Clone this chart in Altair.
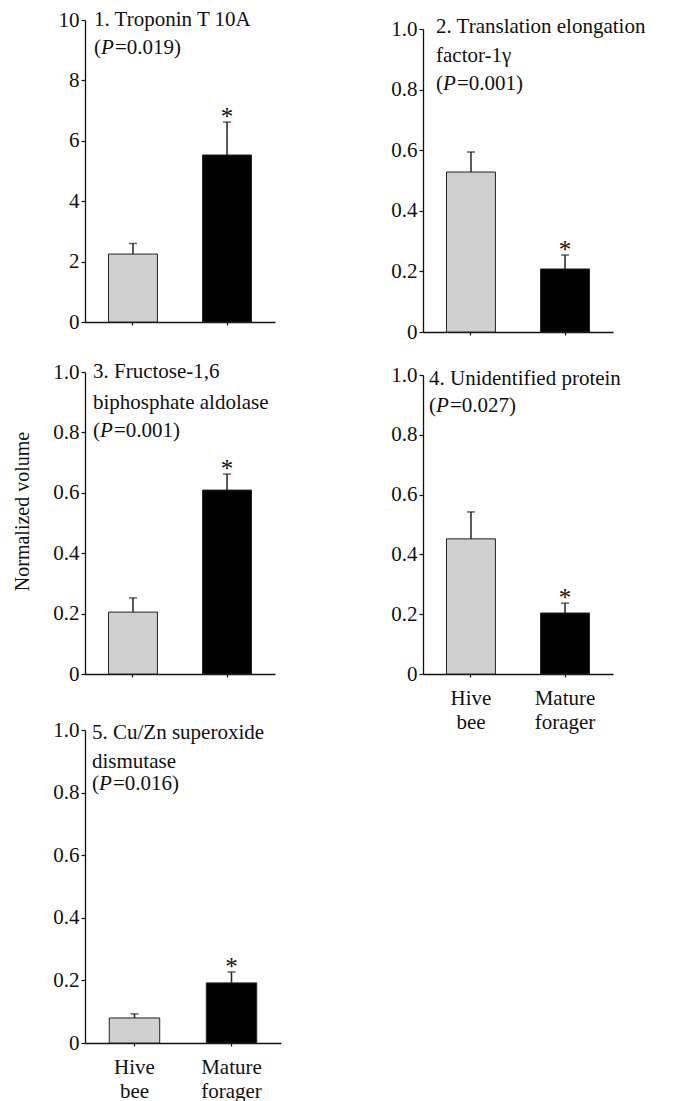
import altair as alt
import pandas as pd

# ---------------- data ----------------
groups = ["Hive bee", "Mature forager"]
signif = ["", "*"]

p1_means = [2.25, 5.53]
p1_upper = [2.60, 6.62]
p2_means = [0.528, 0.208]
p2_upper = [0.594, 0.254]
p3_means = [0.205, 0.609]
p3_upper = [0.252, 0.662]
p4_means = [0.452, 0.204]
p4_upper = [0.542, 0.237]
p5_means = [0.080, 0.192]
p5_upper = [0.093, 0.227]

p1_title = ["1. Troponin T 10A"]
p2_title = ["2. Translation elongation", "factor-1γ"]
p3_title = ["3. Fructose-1,6", "biphosphate aldolase"]
p4_title = ["4. Unidentified protein"]
p5_title = ["5. Cu/Zn superoxide", "dismutase"]

p1_pval = "0.019"
p2_pval = "0.001"
p3_pval = "0.001"
p4_pval = "0.027"
p5_pval = "0.016"

ticks_10 = [0, 2, 4, 6, 8, 10]
ticks_1 = [0, 0.2, 0.4, 0.6, 0.8, 1.0]
y_label = "Normalized volume"

FONT = "Liberation Serif"
FS = 21
INK = "#111111"


def text_layer(txt, x, y, italic=False, size=FS):
    return alt.Chart(alt.Data(values=[{"t": txt}])).mark_text(
        align="left", baseline="alphabetic", font=FONT, fontSize=size,
        fontStyle="italic" if italic else "normal", color=INK
    ).encode(x=alt.value(x), y=alt.value(y), text="t:N")


def panel(means, upper, title_lines, pval, ymax, ticks, width, height, top,
          line_y, x0, show_x_labels=False, ytitle=False):
    """height = view height; top = pixel offset of the axis maximum inside the view."""
    df = pd.DataFrame({"group": groups, "mean": means, "upper": upper, "sig": signif})
    xenc = alt.X(
        "group:N", sort=groups, title=None,
        scale=alt.Scale(paddingInner=0.48, paddingOuter=0.25),
        axis=alt.Axis(
            labels=show_x_labels, ticks=True, tickSize=3, domain=True,
            labelAngle=0, labelExpr="split(datum.label, ' ')",
            labelLineHeight=24, labelPadding=10, labelBaseline="top",
        ),
    )
    if ymax == 10:
        lab = "format(datum.value, 'd')"
    else:
        lab = "datum.value == 0 ? '0' : format(datum.value, '.1f')"
    yscale = alt.Scale(domain=[0, ymax], nice=False, zero=True, range=[height, top])
    yaxis_kw = dict(values=ticks, labelExpr=lab, tickSize=4, labelPadding=2,
                    domain=True, grid=False)
    if ytitle:
        yaxis_kw.update(title=y_label, titleX=-63, titleY=top + 139, titleAngle=270,
                        titleAlign="center", titleBaseline="middle", titleFontSize=20)
    else:
        yaxis_kw.update(title=None)
    yaxis = alt.Axis(**yaxis_kw)
    base = alt.Chart(df).encode(x=xenc)
    bars = base.mark_bar(stroke="#222222", strokeWidth=1).encode(
        y=alt.Y("mean:Q", scale=yscale, axis=yaxis),
        color=alt.Color("group:N", scale=alt.Scale(domain=groups, range=["#d0d0d0", "#000000"]), legend=None),
    )
    err = base.mark_rule(strokeWidth=1.5, color="#222222").encode(
        y=alt.Y("mean:Q", scale=yscale, axis=yaxis), y2="upper:Q")
    cap = base.mark_tick(size=8, thickness=1.5, color="#222222").encode(
        y=alt.Y("upper:Q", scale=yscale, axis=yaxis))
    star = base.mark_text(font=FONT, fontSize=25, baseline="alphabetic", dy=3, color=INK).encode(
        y=alt.Y("upper:Q", scale=yscale, axis=yaxis), text="sig:N")
    layers = [bars, err, cap, star]
    for i, line in enumerate(title_lines):
        layers.append(text_layer(line, x0, top + line_y[i]))
    py = top + line_y[len(title_lines)]
    layers.append(text_layer("(", x0, py))
    layers.append(text_layer("P", x0 + 7, py, italic=True))
    layers.append(text_layer("=" + pval + ")", x0 + 21, py))
    return alt.layer(*layers).properties(width=width, height=height)


p1 = panel(p1_means, p1_upper, p1_title, p1_pval, 10, ticks_10, 190, 302, 0, [6, 34], 9)
p2 = panel(p2_means, p2_upper, p2_title, p2_pval, 1, ticks_1, 190, 312, 9, [4, 33, 61], 13)
p3 = panel(p3_means, p3_upper, p3_title, p3_pval, 1, ticks_1, 190, 302, 0, [6, 37, 65], 8, ytitle=True)
p4 = panel(p4_means, p4_upper, p4_title, p4_pval, 1, ticks_1, 190, 302, 3, [10, 37], 6, show_x_labels=True)
p5 = panel(p5_means, p5_upper, p5_title, p5_pval, 1, ticks_1, 196, 329, 16, [9, 38, 60], 7, show_x_labels=True)

chart = alt.concat(
    p1, p2, p3, p4, p5, columns=2, spacing={"row": 40, "column": 142}, bounds="flush"
).properties(
    padding={"left": 12, "top": 9, "right": 0, "bottom": 0}
).configure_view(stroke=None).configure_axis(
    labelFont=FONT, labelFontSize=FS, labelColor=INK,
    titleFont=FONT, titleFontSize=FS, titleFontWeight="normal", titleColor=INK,
    domainColor=INK, tickColor=INK, domainWidth=1.3, tickWidth=1.2,
).configure_text(font=FONT)

chart.save("out.html", embed_options={"renderer": "svg", "actions": False})
